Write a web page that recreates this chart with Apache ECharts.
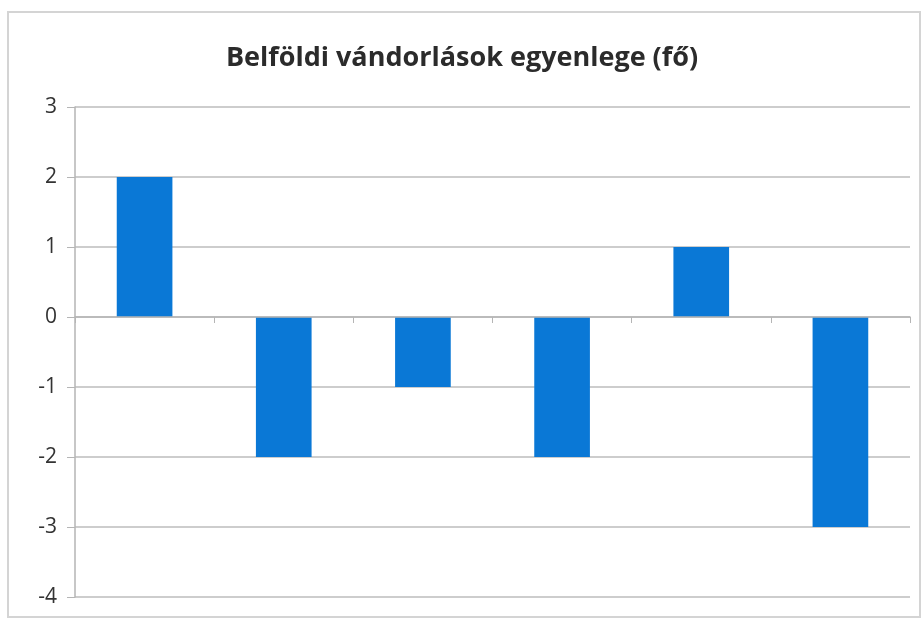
<!DOCTYPE html>
<html>
<head>
<meta charset="utf-8">
<script src="https://cdn.jsdelivr.net/npm/echarts@6/dist/echarts.min.js"></script>
<style>
  html, body { margin: 0; padding: 0; background: #fff; }
  #main { width: 924px; height: 621px; }
</style>
</head>
<body>
<div id="main"></div>
<script>
// adatok
var years = ['2012', '2013', '2014', '2015', '2016', '2017'];
var balance = [2, -2, -1, -2, 1, -3];
var labelColors = ['#cfcfcf', '#2f5d8f', '#2f5d8f', '#2f5d8f', '#111111', '#2f5d8f'];

var myChart = echarts.init(document.getElementById('main'));
var option = {
  backgroundColor: '#fff',
  animation: false,
  title: {
    text: 'Belföldi vándorlások egyenlege (fő)',
    left: 'center',
    top: 40,
    textStyle: {
      fontFamily: 'Open Sans',
      fontWeight: 'bold',
      fontSize: 27,
      color: '#2b2b2b'
    }
  },
  graphic: [{
    type: 'rect',
    shape: { x: 8, y: 12, width: 912, height: 605 },
    style: { fill: 'none', stroke: '#d4d4d4', lineWidth: 2 },
    z: -1
  }],
  grid: { left: 75, right: 14, top: 107, bottom: 24, outerBoundsMode: 'none' },
  xAxis: {
    type: 'category',
    data: years,
    z: 5,
    axisLine: { onZero: true, lineStyle: { color: '#b5b5b5', width: 1.5 } },
    axisTick: { show: true, length: 6, lineStyle: { color: '#b5b5b5' } },
    axisLabel: {
      margin: 24,
      fontFamily: 'Open Sans',
      fontSize: 19,
      color: function (value, index) {
        return labelColors[years.indexOf(value)];
      }
    }
  },
  yAxis: {
    type: 'value',
    min: -4,
    max: 3,
    interval: 1,
    axisLine: { show: true, lineStyle: { color: '#b5b5b5', width: 1.5 } },
    axisTick: { show: true, length: 8, lineStyle: { color: '#b5b5b5' } },
    splitLine: { show: true, lineStyle: { color: '#bdbdbd', width: 1.5 } },
    axisLabel: {
      margin: 18,
      fontFamily: 'Open Sans',
      fontSize: 21,
      color: '#333'
    }
  },
  series: [{
    type: 'bar',
    data: balance,
    barWidth: '40%',
    itemStyle: { color: '#0a78d6' }
  }]
};
myChart.setOption(option);
</script>
</body>
</html>
